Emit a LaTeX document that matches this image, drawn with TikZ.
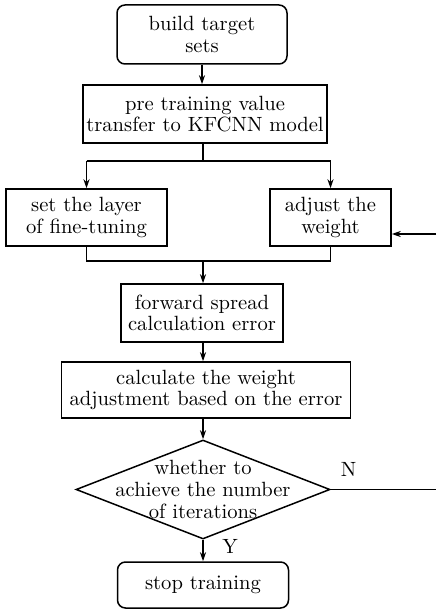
\documentclass[tikz,border=0pt]{standalone}
\usetikzlibrary{arrows.meta,shapes.geometric}
\begin{document}
\begin{tikzpicture}[
    x=0.5pt, y=-0.5pt, line width=0.75pt,
    every node/.style={font=\fontsize{10.3}{10.8}\selectfont, align=center},
    proc/.style={rectangle, draw, inner sep=1pt},
    term/.style={proc, rounded corners=4pt},
    dec/.style={diamond, draw, inner sep=0pt, minimum width=127pt, minimum height=49.5pt},
    arr/.style={-{Stealth[length=4.5pt,width=3pt]}}
  ]
    \useasboundingbox (0,0) rectangle (436,609);
    % boxes
    \node[term, minimum width=85pt, minimum height=29.5pt] (start) at (202,34.5) {build target\\sets};
    \node[proc, minimum width=122pt, minimum height=29pt] (pre) at (205,114) {pre training value\\transfer to KFCNN model};
    \node[proc, minimum width=80.5pt, minimum height=28.5pt] (layer) at (86.5,217.5) {set the layer\\of fine-tuning};
    \node[proc, minimum width=60.5pt, minimum height=28.5pt] (adj) at (330.5,217.5) {adjust the\\weight};
    \node[proc, minimum width=81pt, minimum height=29pt] (fwd) at (202,313) {forward spread\\calculation error};
    \node[proc, minimum width=144.5pt, minimum height=28pt] (calc) at (206,390) {calculate the weight\\adjustment based on the error};
    \node[dec, label={[align=center]center:whether to\\achieve the number\\of iterations}] (iter) at (203,489.5) {};
    \node[term, minimum width=85.5pt, minimum height=23pt] (stop) at (203,585) {stop training};
    % connectors
    \coordinate (sp) at (203,161);
    \coordinate (mg) at (203,261);
    \coordinate (fb) at (436,234);
    \coordinate (out) at (436,489.5);
    \draw[arr] (start) -- (start |- pre.north);
    \draw (pre.south -| sp) -- (sp);
    \draw (sp -| layer.north) -- (sp -| adj.north);
    \draw[arr] (sp -| layer.north) -- (layer.north);
    \draw[arr] (sp -| adj.north) -- (adj.north);
    \draw (layer.south) -- (layer.south |- mg) -- (adj.south |- mg) -- (adj.south);
    \draw[arr] (mg) -- (mg |- fwd.north);
    \draw[arr] (fb) -- (fb -| adj.east);
    \draw[arr] (fwd.south -| mg) -- (mg |- calc.north);
    \draw[arr] (calc.south -| iter) -- (iter.north);
    \draw (iter.east) -- (out) node[pos=0.17, above=3pt] {N};
    \draw[arr] (iter.south) -- (stop.north) node[pos=0.3, right=6pt] {Y};
\end{tikzpicture}
\end{document}
